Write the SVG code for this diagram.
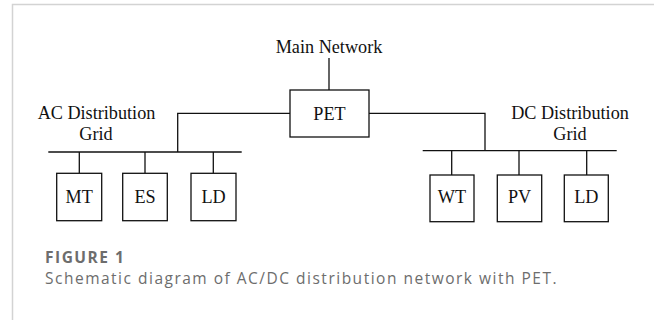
<svg xmlns="http://www.w3.org/2000/svg" width="654" height="320" viewBox="0 0 654 320">
<style>
.frame{stroke:#d3d3d3;stroke-width:1.5;fill:none}
.ln{stroke:#111;stroke-width:1.3;fill:none}
.box{stroke:#111;stroke-width:1.3;fill:#fff}
.t{font-family:"Liberation Serif","Times New Roman",serif;font-size:18.2px;fill:#111;text-anchor:middle}
.cap1{font-family:"Open Sans","Noto Sans",sans-serif;font-size:15.5px;font-weight:bold;fill:#6d6d6d;letter-spacing:1.5px}
.cap2{font-family:"Open Sans","Noto Sans",sans-serif;font-size:15.5px;fill:#6d6d6d;letter-spacing:1.5px}
</style>
<rect width="654" height="320" fill="#fff"/>
<path class="frame" d="M12.5,320 V4.5 H654"/>
<g id="connectors">
<path class="ln" d="M329,58 V90"/>
<path class="ln" d="M290,113.3 H177.7 V152"/>
<path class="ln" d="M48.3,152 H241.7"/>
<path class="ln" d="M79.3,152 V173.3 M145,152 V173.3 M213.3,152 V173.3"/>
<path class="ln" d="M369,113.3 H485 V150.7"/>
<path class="ln" d="M422.7,150.7 H616.7"/>
<path class="ln" d="M451.7,150.7 V175 M519,150.7 V175 M586.7,150.7 V175"/>
</g>
<g id="main-network"><text class="t" x="329" y="53">Main Network</text></g>
<g id="pet"><rect class="box" x="290" y="90" width="79" height="47"/><text class="t" x="329.5" y="119.5">PET</text></g>
<g id="ac-label"><text class="t" x="96.5" y="119">AC Distribution</text><text class="t" x="96" y="140">Grid</text></g>
<g id="dc-label"><text class="t" x="570" y="118.5">DC Distribution</text><text class="t" x="570" y="140">Grid</text></g>
<g id="mt"><rect class="box" x="56.7" y="173.3" width="45" height="47.4"/><text class="t" x="79.2" y="203.3">MT</text></g>
<g id="es"><rect class="box" x="122.7" y="173.3" width="44.6" height="47.4"/><text class="t" x="145" y="203.3">ES</text></g>
<g id="ld-ac"><rect class="box" x="191" y="173.3" width="45" height="47.4"/><text class="t" x="213.5" y="203.3">LD</text></g>
<g id="wt"><rect class="box" x="430" y="175" width="44" height="46.7"/><text class="t" x="452" y="203.3">WT</text></g>
<g id="pv"><rect class="box" x="497.3" y="175" width="44.4" height="46.7"/><text class="t" x="519.5" y="203.3">PV</text></g>
<g id="ld-dc"><rect class="box" x="564.3" y="175" width="44" height="46.7"/><text class="t" x="586.3" y="203.3">LD</text></g>
<text class="cap1" x="45" y="263">FIGURE 1</text>
<text class="cap2" x="45" y="284">Schematic diagram of AC/DC distribution network with PET.</text>
</svg>
